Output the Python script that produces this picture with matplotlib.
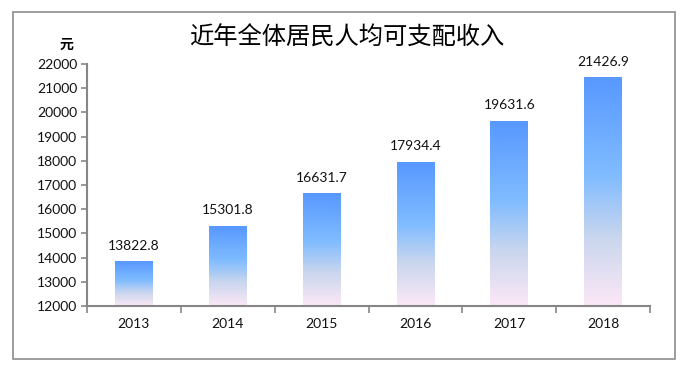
import matplotlib
matplotlib.use("Agg")
import matplotlib.pyplot as plt
import numpy as np
from matplotlib.colors import LinearSegmentedColormap
from matplotlib.patches import Rectangle

plt.rcParams['font.family'] = ['Noto Sans CJK SC', 'DejaVu Sans']

years = ['2013', '2014', '2015', '2016', '2017', '2018']
values = [13822.8, 15301.8, 16631.7, 17934.4, 19631.6, 21426.9]
title = '近年全体居民人均可支配收入'
unit = '元'

fig = plt.figure(figsize=(6.92, 3.86), dpi=100)
fig.patch.set_facecolor('white')

# outer frame
fig.patches.append(Rectangle((13/692, 1-359/386), (675-13)/692, (359-12)/386,
                             transform=fig.transFigure, fill=False,
                             edgecolor='#8c8c8c', linewidth=1.2))

ax = fig.add_axes([87/692, 1-306/386, (650-87)/692, (306-64)/386])
ymin, ymax = 12000, 22000

cmap = LinearSegmentedColormap.from_list(
    'g', [(0, '#fce8f6'), (0.3, '#c9d6ee'), (0.57, '#80bcff'), (1, '#5898ff')])
grad = np.linspace(0, 1, 256).reshape(-1, 1)
w = 0.4
for i, v in enumerate(values):
    ax.imshow(grad, extent=(i - w/2, i + w/2, ymin, v), origin='lower',
              cmap=cmap, aspect='auto', zorder=2, interpolation='bilinear')
    ax.text(i, v + 420, f'{v:.1f}', ha='center', va='bottom', fontsize=10,
            family=['Lato', 'DejaVu Sans'], color='#111111')
ax.set_xlim(-0.5, len(years)-0.5)
ax.set_ylim(ymin, ymax)

ax.set_yticks(np.arange(12000, 22001, 1000))
ax.set_yticklabels([str(t) for t in range(12000, 22001, 1000)],
                   family=['Lato', 'DejaVu Sans'], fontsize=10)
ax.set_xticks(range(len(years)))
ax.set_xticklabels(years, family=['Lato', 'DejaVu Sans'], fontsize=10)
ax.tick_params(axis='x', length=0, pad=9, labelcolor='#111111')
ax.set_xticks(np.arange(-0.5, len(years), 1.0), minor=True)
ax.tick_params(axis='x', which='minor', length=5, color='#868686', width=1.2, direction='out')
ax.tick_params(axis='y', length=4, color='#868686', width=1.2, pad=3, labelcolor='#111111')

for s in ['top', 'right']:
    ax.spines[s].set_visible(False)
for s in ['left', 'bottom']:
    ax.spines[s].set_color('#868686')
    ax.spines[s].set_linewidth(1.5)

fig.text(347/692, 1-38/386, title, ha='center', va='center', fontsize=17.5, color='#000000')
fig.text(66/692, 1-45/386, unit, ha='center', va='center', fontsize=10,
         color='#000000', fontweight='bold')

fig.savefig('out.png', dpi=100)
